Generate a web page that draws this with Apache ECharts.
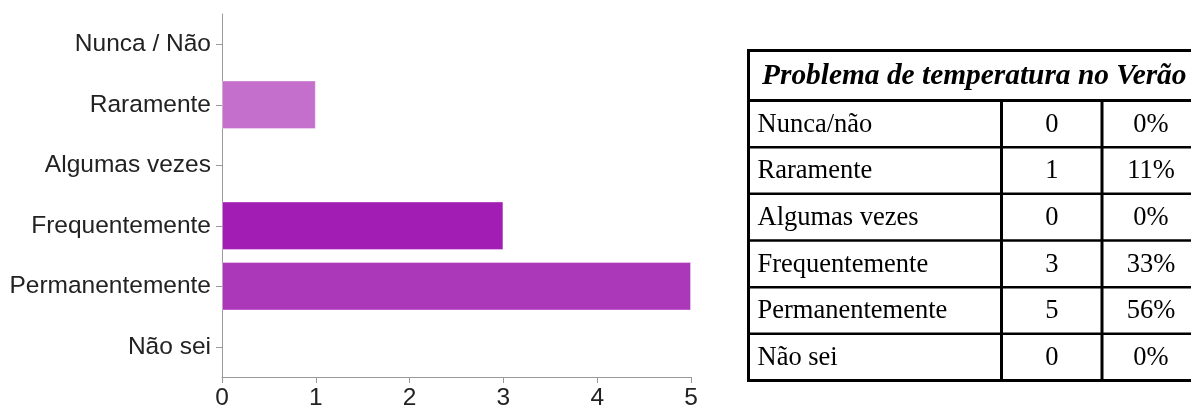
<!DOCTYPE html>
<html>
<head>
<meta charset="utf-8">
<script src="https://cdn.jsdelivr.net/npm/echarts@6/dist/echarts.min.js"></script>
<style>
  html, body { margin: 0; padding: 0; background: #fff; }
  #chart { width: 1191px; height: 409px; }
</style>
</head>
<body>
<div id="chart"></div>
<script>
// valores
const categories = ['Nunca / Não', 'Raramente', 'Algumas vezes', 'Frequentemente', 'Permanentemente', 'Não sei']
const counts = [0, 1, 0, 3, 5, 0]
const barColors = ['#c36fcb', '#c36fcb', '#c36fcb', '#a21db4', '#ab37b9', '#c36fcb']
const xTicks = [0, 1, 2, 3, 4, 5]

// tabela ao lado
const tableTitle = 'Problema de temperatura no Verão'
const tableLabels = ['Nunca/não', 'Raramente', 'Algumas vezes', 'Frequentemente', 'Permanentemente', 'Não sei']
const tablePercents = ['0%', '11%', '0%', '33%', '56%', '0%']

const chart = echarts.init(document.getElementById('chart'))

// geometria da tabela
const tLeft = 748.5, tRight = 1200, tTop = 50.5, tHead = 100.5, tBottom = 380.5
const col1 = 1001.5, col2 = 1102
const rowH = (tBottom - tHead) / tableLabels.length

const graphics = []
function line(x1, y1, x2, y2, w) {
    graphics.push({ type: 'line', shape: { x1, y1, x2, y2 }, style: { stroke: '#000', lineWidth: w } })
}
function txt(text, x, y, align, font) {
    graphics.push({
        type: 'text', x, y,
        style: { text, fill: '#000', font, textAlign: align, textVerticalAlign: 'middle' }
    })
}
line(tLeft - 1.5, tTop, tRight, tTop, 3)
line(tLeft - 1.5, tHead, tRight, tHead, 3)
for (let i = 1; i < tableLabels.length; i++) {
    line(tLeft, tHead + rowH * i, tRight, tHead + rowH * i, 2.5)
}
line(tLeft - 1.5, tBottom, tRight, tBottom, 3)
line(tLeft, tTop - 1.5, tLeft, tBottom + 1.5, 3)
line(col1, tHead, col1, tBottom, 3)
line(col2, tHead, col2, tBottom, 3)
line(tRight, tTop, tRight, tBottom, 3)

txt(tableTitle, (tLeft + tRight) / 2, (tTop + tHead) / 2 + 1, 'center', 'italic bold 29.4px "Liberation Serif"')
tableLabels.forEach((lab, i) => {
    const y = tHead + rowH * (i + 0.5) + 1
    const font = '26.5px "Liberation Serif"'
    txt(lab, tLeft + 9, y, 'left', font)
    txt(String(counts[i]), (col1 + col2) / 2, y, 'center', font)
    txt(tablePercents[i], (col2 + tRight) / 2, y, 'center', font)
})

const option = {
    animation: false,
    backgroundColor: '#fff',
    grid: { left: 222, top: 14, width: 469, height: 363, containLabel: false, outerBoundsMode: 'none' },
    xAxis: {
        type: 'value',
        min: xTicks[0],
        max: xTicks[xTicks.length - 1],
        interval: 1,
        axisLine: { show: true, lineStyle: { color: '#9a9a9a', width: 1 } },
        axisTick: { show: true, length: 6, lineStyle: { color: '#9a9a9a' } },
        axisLabel: { color: '#222', fontSize: 24.5, fontFamily: 'Liberation Sans', margin: 9 },
        splitLine: { show: false }
    },
    yAxis: {
        type: 'category',
        inverse: true,
        data: categories,
        axisLine: { show: true, lineStyle: { color: '#9a9a9a', width: 1 } },
        axisTick: { show: true, length: 6, alignWithLabel: true, lineStyle: { color: '#9a9a9a' } },
        axisLabel: { color: '#222', fontSize: 24.5, fontFamily: 'Liberation Sans', margin: 11 }
    },
    series: [{
        type: 'bar',
        barCategoryGap: '20%',
        data: counts.map((v, i) => ({
            value: v,
            itemStyle: {
                color: barColors[i],
                borderColor: v > 0 ? 'rgba(255,255,255,0.35)' : 'transparent',
                borderWidth: v > 0 ? 1 : 0
            }
        }))
    }],
    graphic: graphics
}
chart.setOption(option)
</script>
</body>
</html>
